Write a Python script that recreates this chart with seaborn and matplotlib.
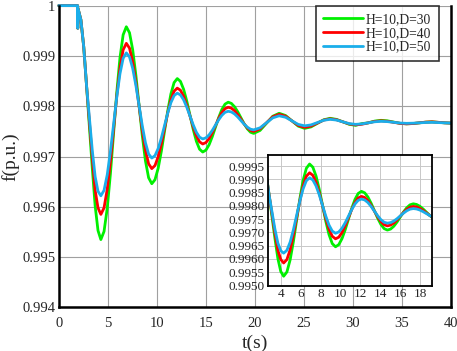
import numpy as np
import pandas as pd
import seaborn as sns
import matplotlib.pyplot as plt

# time axis (s)
t = [0, 1.93, 1.945, 1.96,
     2.261, 2.553, 2.844, 3.135, 3.426, 3.718, 4.009, 4.3,
     4.625, 4.95, 5.275, 5.6, 5.925, 6.25, 6.575, 6.9,
     7.225, 7.55, 7.875, 8.2, 8.525, 8.85, 9.175, 9.5,
     9.825, 10.15, 10.475, 10.8, 11.125, 11.45, 11.775, 12.1,
     12.425, 12.75, 13.075, 13.4, 13.725, 14.05, 14.375, 14.7,
     15.025, 15.35, 15.675, 16.0, 16.325, 16.65, 16.975, 17.3,
     17.625, 17.95, 18.275, 18.6, 18.925, 19.25, 19.575, 19.9,
     20.55, 21.2, 21.85, 22.5, 23.15, 23.8, 24.45, 25.1,
     25.75, 26.4, 27.05, 27.7, 28.35, 29.0, 29.65, 30.3,
     30.95, 31.6, 32.25, 32.9, 33.55, 34.2, 34.85, 35.5,
     36.15, 36.8, 37.45, 38.1, 38.75, 39.4, 40.0]

f_d30 = [1.0, 1.0, 0.99955, 0.99995,
         0.99972, 0.99918, 0.99840, 0.99758, 0.99677, 0.99602, 0.99553, 0.99535,
         0.995511, 0.995969, 0.996656, 0.997465, 0.998274, 0.998961, 0.999419, 0.99958,
         0.999461, 0.999123, 0.998617, 0.99802, 0.997423, 0.996917, 0.996579, 0.99646,
         0.99654, 0.996766, 0.997105, 0.997505, 0.997905, 0.998244, 0.99847, 0.99855,
         0.998494, 0.998336, 0.998099, 0.99782, 0.997541, 0.997304, 0.997146, 0.99709,
         0.997128, 0.997235, 0.997396, 0.997585, 0.997774, 0.997935, 0.998042, 0.99808,
         0.998056, 0.997989, 0.997889, 0.99777, 0.997651, 0.997551, 0.997484, 0.99746,
         0.997519, 0.99766, 0.997801, 0.99786, 0.997816, 0.99771, 0.997604, 0.99756,
         0.997589, 0.99766, 0.997731, 0.99776, 0.997739, 0.99769, 0.997641, 0.99762,
         0.997655, 0.99767, 0.997705, 0.99772, 0.99771, 0.997685, 0.99766, 0.99765,
         0.997656, 0.99767, 0.997684, 0.99769, 0.99768, 0.99767, 0.997665]

f_d40 = [1.0, 1.0, 0.99955, 0.99995,
         0.99972, 0.99918, 0.99840, 0.99768, 0.99697, 0.99633, 0.99598, 0.99585,
         0.995979, 0.996348, 0.996899, 0.99755, 0.998201, 0.998752, 0.999121, 0.99925,
         0.999155, 0.998885, 0.998481, 0.998005, 0.997529, 0.997125, 0.996855, 0.99676,
         0.996821, 0.996994, 0.997254, 0.99756, 0.997866, 0.998126, 0.998299, 0.99836,
         0.998318, 0.998197, 0.998017, 0.997805, 0.997593, 0.997413, 0.997292, 0.99725,
         0.997278, 0.997357, 0.997475, 0.997615, 0.997755, 0.997873, 0.997952, 0.99798,
         0.997962, 0.99791, 0.997832, 0.99774, 0.997648, 0.99757, 0.997518, 0.9975,
         0.99755, 0.99767, 0.99779, 0.99784, 0.997802, 0.99771, 0.997618, 0.99758,
         0.997605, 0.997665, 0.997725, 0.99775, 0.997732, 0.99769, 0.997648, 0.99763,
         0.997642, 0.99767, 0.997698, 0.99771, 0.997701, 0.99768, 0.997659, 0.99765,
         0.997656, 0.99767, 0.997684, 0.99769, 0.99768, 0.99767, 0.997665]

f_d50 = [1.0, 1.0, 0.99955, 0.99995,
         0.99972, 0.99918, 0.99840, 0.99776, 0.99712, 0.99660, 0.99631, 0.99622,
         0.996328, 0.996636, 0.997097, 0.99764, 0.998183, 0.998644, 0.998952, 0.99906,
         0.99898, 0.998754, 0.998415, 0.998015, 0.997615, 0.997276, 0.99705, 0.99697,
         0.997019, 0.997159, 0.997368, 0.997615, 0.997862, 0.998071, 0.998211, 0.99826,
         0.998225, 0.998127, 0.997979, 0.997805, 0.997631, 0.997483, 0.997385, 0.99735,
         0.997371, 0.997431, 0.99752, 0.997625, 0.99773, 0.997819, 0.997879, 0.9979,
         0.997886, 0.997846, 0.997786, 0.997715, 0.997644, 0.997584, 0.997544, 0.99753,
         0.997571, 0.99767, 0.997769, 0.99781, 0.997781, 0.99771, 0.997639, 0.99761,
         0.997629, 0.997675, 0.997721, 0.99774, 0.997725, 0.99769, 0.997655, 0.99764,
         0.997649, 0.99767, 0.997691, 0.9977, 0.997694, 0.99768, 0.997666, 0.99766,
         0.997663, 0.99767, 0.997677, 0.99768, 0.997675, 0.99767, 0.997665]

labels = ["H=10,D=30", "H=10,D=40", "H=10,D=50"]
colors = ["#00f000", "#ff0000", "#1aaeea"]

main_yticks = [0.994, 0.995, 0.996, 0.997, 0.998, 0.999, 1.0]
main_yticklabels = ["0.994", "0.995", "0.996", "0.997", "0.998", "0.999", "1"]
main_xticks = [0, 5, 10, 15, 20, 25, 30, 35, 40]
inset_xticks = [4, 6, 8, 10, 12, 14, 16, 18]
inset_yticks = [0.995, 0.9955, 0.996, 0.9965, 0.997, 0.9975, 0.998, 0.9985, 0.999, 0.9995]

df = pd.DataFrame({"t": t * 3,
                   "f": f_d30 + f_d40 + f_d50,
                   "case": [labels[0]] * len(t) + [labels[1]] * len(t) + [labels[2]] * len(t)})

sns.set_theme(style="white")
plt.rcParams['font.family'] = ['Liberation Serif', 'DejaVu Serif']

fig = plt.figure(figsize=(4.57, 3.51), dpi=100)
ax = fig.add_axes([0.1285, 0.124, 0.8575, 0.86])

sns.lineplot(data=df, x="t", y="f", hue="case", palette=colors, estimator=None,
             sort=False, linewidth=2.0, ax=ax)
for ln in ax.get_lines():
    ln.set_clip_on(False)

ax.set_xlim(0, 40)
ax.set_ylim(0.994, 1.0)
ax.set_xticks(main_xticks)
ax.set_xticklabels([str(v) for v in main_xticks], fontsize=10.5)
ax.set_yticks(main_yticks)
ax.set_yticklabels(main_yticklabels, fontsize=10.5)
ax.grid(True, color="#a0a0a0", linewidth=0.8)
ax.tick_params(axis="x", length=0, pad=7)
ax.tick_params(axis="y", length=0, pad=2.5)
for name, s in ax.spines.items():
    s.set_color("black")
    s.set_linewidth(1.8)
ax.spines["top"].set_visible(False)
ax.set_xlabel("t(s)", fontsize=14, labelpad=3)
ax.set_ylabel("f(p.u.)", fontsize=14, labelpad=2)

leg = ax.legend(loc="upper right", bbox_to_anchor=(0.97, 1.0), fontsize=9.8,
                frameon=True, fancybox=False, handlelength=2.9, handletextpad=0.25,
                borderpad=0.55, labelspacing=0.05, borderaxespad=0.0)
leg.get_frame().set_edgecolor("black")
leg.get_frame().set_linewidth(1.2)
for line in leg.get_lines():
    line.set_linewidth(2.0)

# inset zoom
axi = fig.add_axes([0.5858, 0.1866, 0.360, 0.3718])
sns.lineplot(data=df, x="t", y="f", hue="case", palette=colors, estimator=None,
             sort=False, linewidth=2.0, ax=axi, legend=False)
axi.set_xlim(2.7, 19.2)
axi.set_ylim(0.995, 0.99992)
axi.set_xticks(inset_xticks)
axi.set_xticklabels([str(v) for v in inset_xticks], fontsize=9.5)
axi.set_yticks(inset_yticks)
axi.set_yticklabels(["%.4f" % v for v in inset_yticks], fontsize=9.5)
axi.grid(True, color="#c8c8c8", linewidth=0.7)
axi.tick_params(length=0, pad=2)
axi.set_xlabel("")
axi.set_ylabel("")
for s in axi.spines.values():
    s.set_color("black")
    s.set_linewidth(1.3)

fig.savefig("out.png", dpi=100)
